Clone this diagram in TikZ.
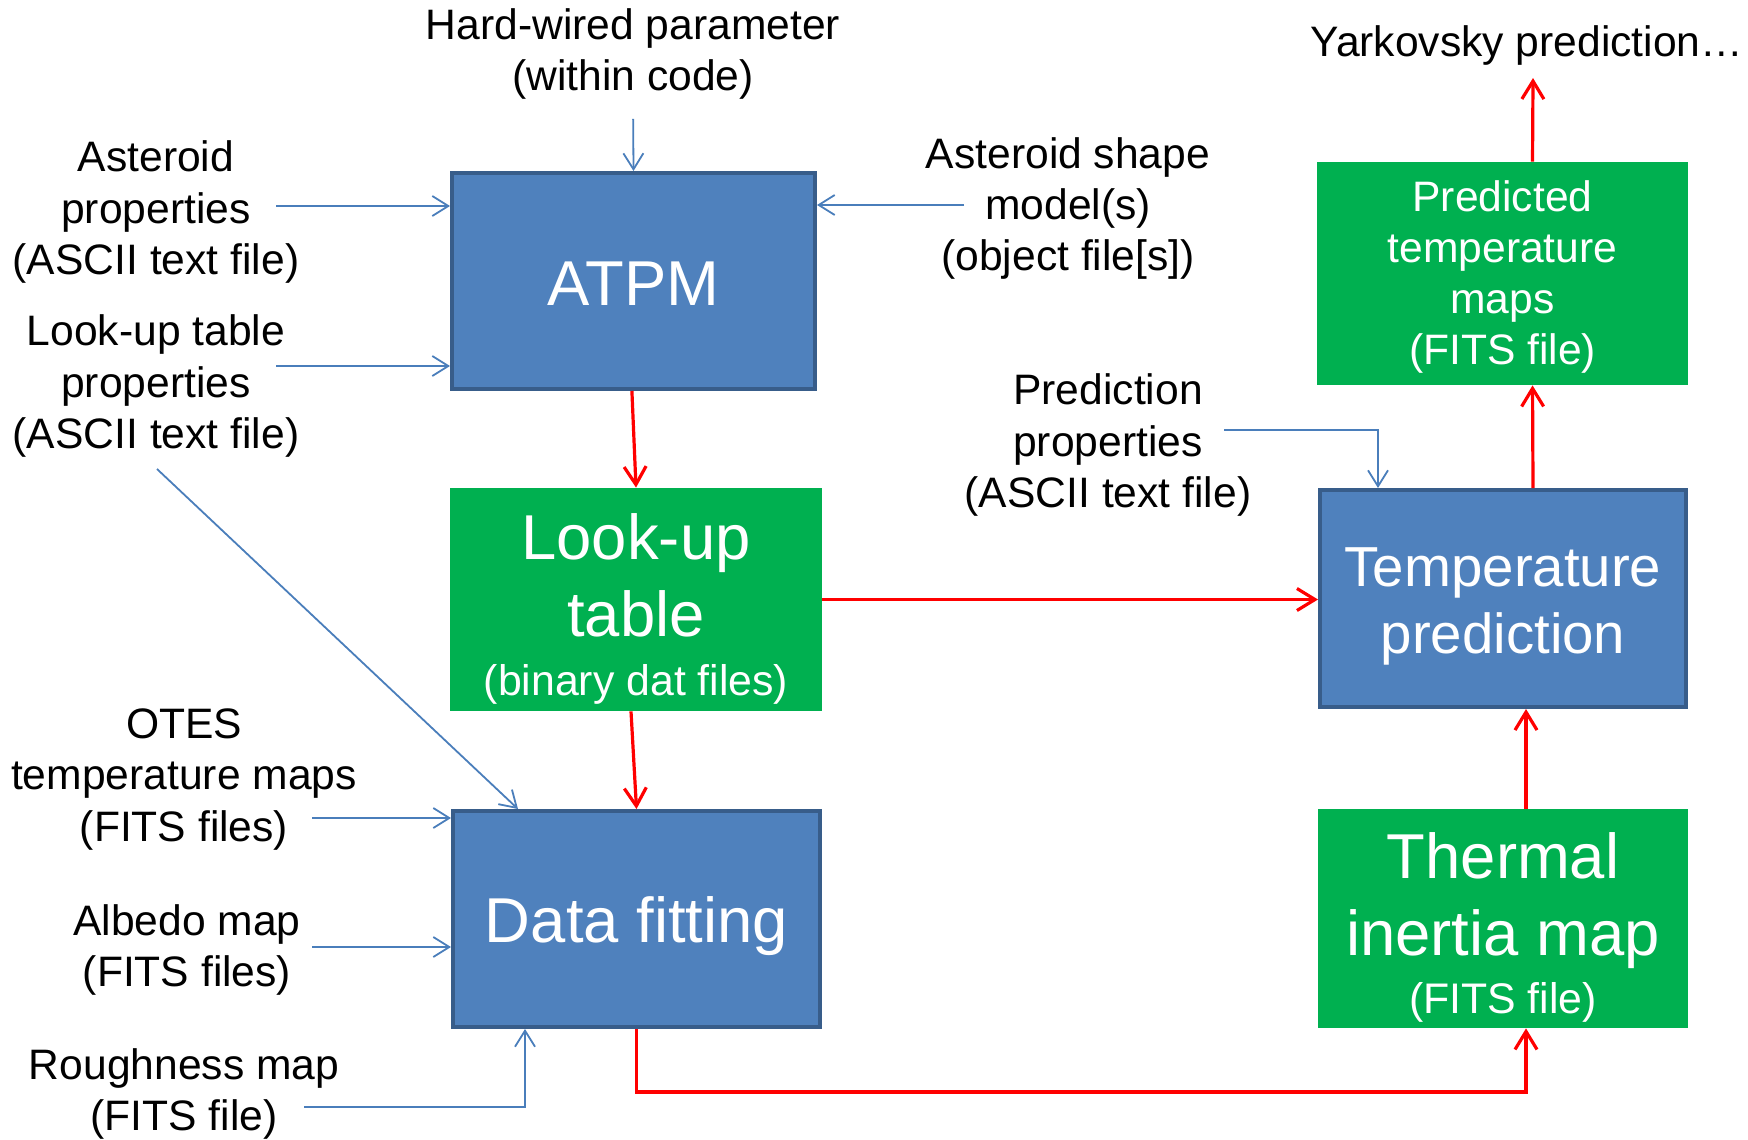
\documentclass[tikz,border=0pt]{standalone}
\usepackage{fontspec}
\setmainfont{Liberation Sans}
\usetikzlibrary{arrows.meta}
\definecolor{boxblue}{HTML}{4F81BD}
\definecolor{boxedge}{HTML}{385D8A}
\definecolor{boxgreen}{HTML}{00B050}
\definecolor{lineblue}{HTML}{4A7EBB}
\definecolor{linered}{HTML}{FF0000}
\begin{document}
\begin{tikzpicture}[x=0.5pt,y=-0.5pt,
 lbl/.style={align=center, font=\fontsize{21.3}{25.6}\selectfont, inner sep=0pt},
 bluebox/.style={draw=boxedge, line width=2pt, fill=boxblue, inner sep=0pt},
 greenbox/.style={fill=boxgreen, inner sep=0pt},
 boxtxt/.style={text=white, align=center, inner sep=0pt},
 bigtxt/.style={font=\fontsize{31.7}{38.5}\selectfont},
 midtxt/.style={font=\fontsize{28.2}{33.8}\selectfont},
 smalltxt/.style={font=\fontsize{21.3}{25.6}\selectfont},
 feed/.style={draw=lineblue, line width=0.9pt, -{Straight Barb[length=8pt,width=10pt]}},
 flow/.style={draw=linered, line width=1.6pt, -{Straight Barb[length=9pt,width=11pt]}},
]
\useasboundingbox (0,0) rectangle (1748,1139);

% boxes
\node[bluebox, minimum width=181.5pt, minimum height=108pt] (atpm) at (633.5,281) {};
\node[greenbox, minimum width=186pt, minimum height=111.5pt] (lut) at (636,599.5) {};
\node[bluebox, minimum width=183.5pt, minimum height=108pt] (df) at (636.5,919) {};
\node[bluebox, minimum width=183pt, minimum height=108.5pt] (tp) at (1503,598.5) {};
\node[greenbox, minimum width=185.5pt, minimum height=111.5pt] (pm) at (1502.5,273.5) {};
\node[greenbox, minimum width=185pt, minimum height=109.5pt] (ti) at (1503,918.5) {};

% box texts
\node[boxtxt, bigtxt] (atpmt) at (633.5,283.2) {ATPM};
\node[boxtxt, bigtxt] (lutt) at (636,609)
  {Look-up\\table\\[-9.3pt]{\fontsize{21.4}{25.7}\selectfont (binary dat files)}};
\node[boxtxt, bigtxt] (dft) at (636.5,925.7) {Data fitting};
\node[boxtxt, midtxt] (tpt) at (1503,606.3) {Temperature\\prediction};
\node[boxtxt, smalltxt] (pmt) at (1502.5,276.8) {Predicted\\temperature\\maps\\(FITS file)};
\node[boxtxt, bigtxt] (tit) at (1503,927.5)
  {Thermal\\inertia map\\[-9.3pt]{\fontsize{21.4}{25.7}\selectfont (FITS file)}};

% labels
\node[lbl] (hw) at (633,54) {Hard-wired parameter\\(within code)};
\node[lbl] (ap) at (156,212) {Asteroid\\properties\\(ASCII text file)};
\node[lbl] (lp) at (156,386) {Look-up table\\properties\\(ASCII text file)};
\node[lbl] (sm) at (1068,208.5) {Asteroid shape\\model(s)\\(object file[s])};
\node[lbl] (pp) at (1108,445) {Prediction\\properties\\(ASCII text file)};
\node[lbl] (otes) at (184,779.5) {OTES\\temperature maps\\(FITS files)};
\node[lbl] (alb) at (187,950) {Albedo map\\(FITS files)};
\node[lbl] (rgh) at (184,1094) {Roughness map\\(FITS file)};
\node[lbl] (yark) at (1527,45.5) {Yarkovsky prediction…};

% free ends
\coordinate (apout) at (276,206);
\coordinate (lpout) at (276,366);
\coordinate (smout) at (964,205);
\coordinate (lpdiag) at (157,469);
\coordinate (otesout) at (312,818);
\coordinate (albout) at (312,947);
\coordinate (rghout) at (304,1107);
\coordinate (ppout) at (1224,430);
\coordinate (yarkin) at (1533,78);

% blue input arrows
\draw[feed, shorten <=9.5pt] (hw.south) -- (atpm.north);
\draw[feed] (apout) -- (apout -| atpm.west);
\draw[feed] (lpout) -- (lpout -| atpm.west);
\draw[feed] (smout) -- (smout -| atpm.east);
\draw[feed] (lpdiag) -- ([xshift=33.5pt]df.north west);
\draw[feed] (otesout) -- (otesout -| df.west);
\draw[feed] (albout) -- (albout -| df.west);
\draw[feed] (rghout) -| ([xshift=37pt]df.south west);
\draw[feed] (ppout) -| ([xshift=30pt]tp.north west);

% red flow arrows
\draw[flow] ([xshift=-0.8pt]atpm.south) -- (lut.north);
\draw[flow] ([xshift=-2.5pt]lut.south) -- (df.north);
\draw[flow] (lut.east) -- (lut.east -| tp.west);
\draw[flow] (df.south) -- (df.south |- 0,1092) -| ([xshift=11.5pt]ti.south);
\draw[flow] ([xshift=11.5pt]ti.north) -- ([xshift=11.5pt]tp.south);
\draw[flow] ([xshift=15pt]tp.north) -- ([xshift=15pt]pm.south);
\draw[flow] ([xshift=15pt]pm.north) -- (yarkin);
\end{tikzpicture}
\end{document}
